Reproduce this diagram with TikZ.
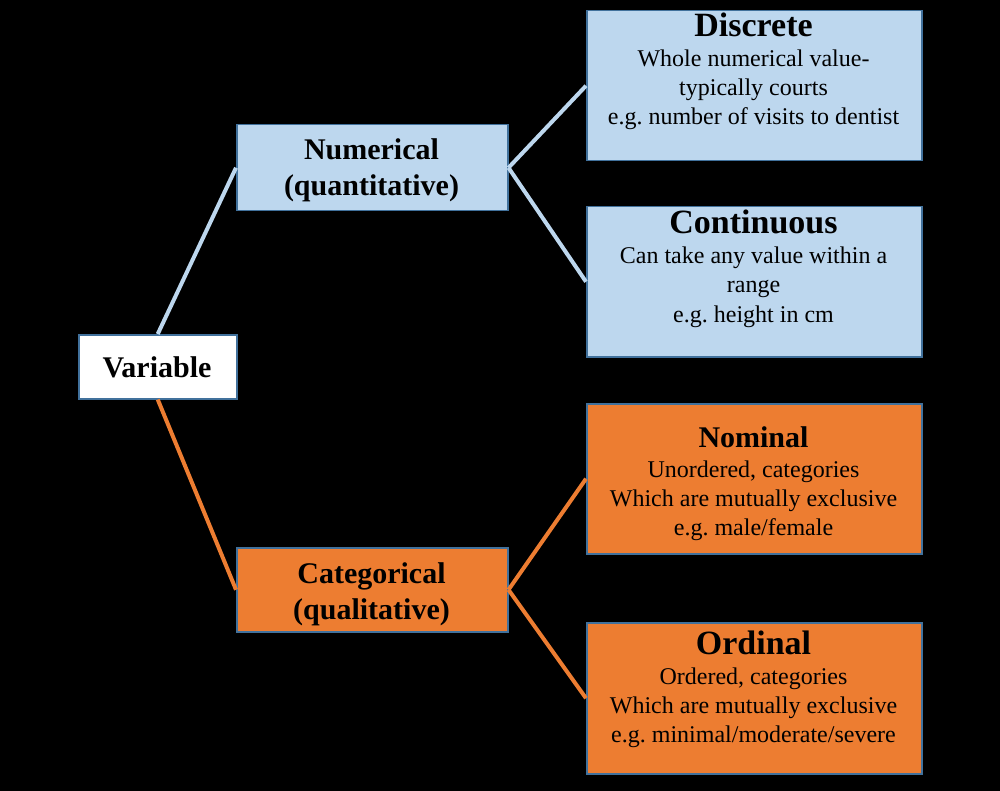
\documentclass[tikz,border=0pt]{standalone}
\usepackage{fontspec}
\setmainfont{Liberation Serif}
\frenchspacing
\definecolor{bluefill}{HTML}{BDD7EE}
\definecolor{orangefill}{HTML}{ED7D31}
\definecolor{boxline}{HTML}{41719C}
\begin{document}
\begin{tikzpicture}[x=1pt,y=-1pt,
  box/.style={draw=boxline,line width=1.5pt,inner sep=0pt,anchor=north west},
  bluebox/.style={box,fill=bluefill},
  orangebox/.style={box,fill=orangefill},
  whitebox/.style={box,fill=white},
  head/.style={anchor=base,inner sep=0pt,font=\fontsize{34}{40}\selectfont\bfseries},
  midhead/.style={anchor=base,inner sep=0pt,font=\fontsize{30}{36}\selectfont\bfseries},
  body/.style={anchor=base,inner sep=0pt,font=\fontsize{24}{29}\selectfont},
  blueline/.style={draw=bluefill,line width=4pt},
  orangeline/.style={draw=orangefill,line width=4pt}]
\fill[black] (0,0) rectangle (1000,791);
\useasboundingbox (0,0) rectangle (1000,791);
% boxes
\node[whitebox,minimum width=158pt,minimum height=64pt] (var) at (78,334) {};
\node[bluebox,minimum width=271pt,minimum height=86pt] (num) at (236,124) {};
\node[orangebox,minimum width=271pt,minimum height=84pt] (cat) at (236,547) {};
\node[bluebox,minimum width=335pt,minimum height=150pt] (dis) at (586,10) {};
\node[bluebox,minimum width=335pt,minimum height=150pt] (con) at (586,206) {};
\node[orangebox,minimum width=335pt,minimum height=150pt] (nom) at (586,403) {};
\node[orangebox,minimum width=335pt,minimum height=151pt] (ord) at (586,622) {};
% connectors
\draw[blueline] (var.north) -- (num.west);
\draw[orangeline] (var.south) -- (cat.west);
\draw[blueline] (num.east) -- (dis.west);
\draw[blueline] (num.east) -- (con.west);
\draw[orangeline] (cat.east) -- (nom.west);
\draw[orangeline] (cat.east) -- (ord.west);
% texts
\node[midhead] (vart) at (157,377) {Variable};
\node[midhead] (numt1) at (371.5,160) {Numerical};
\node[midhead] (numt2) at (371.5,196) {(quantitative)};
\node[midhead] (catt1) at (371.5,583) {Categorical};
\node[midhead] (catt2) at (371.5,619) {(qualitative)};
\node[head] (dish) at (753.5,37) {Discrete};
\node[body] (dis1) at (753.5,67) {Whole numerical value-};
\node[body] (dis2) at (753.5,96) {typically courts};
\node[body] (dis3) at (753.5,125) {e.g. number of visits to dentist};
\node[head] (conh) at (753.5,234) {Continuous};
\node[body] (con1) at (753.5,264) {Can take any value within a};
\node[body] (con2) at (753.5,293) {range};
\node[body] (con3) at (753.5,322) {e.g. height in cm};
\node[midhead] (nomh) at (753.5,447) {Nominal};
\node[body] (nom1) at (753.5,477) {Unordered, categories};
\node[body] (nom2) at (753.5,506) {Which are mutually exclusive};
\node[body] (nom3) at (753.5,535) {e.g. male/female};
\node[head] (ordh) at (753.5,654) {Ordinal};
\node[body] (ord1) at (753.5,684) {Ordered, categories};
\node[body] (ord2) at (753.5,713) {Which are mutually exclusive};
\node[body] (ord3) at (753.5,742) {e.g. minimal/moderate/severe};
\end{tikzpicture}
\end{document}
